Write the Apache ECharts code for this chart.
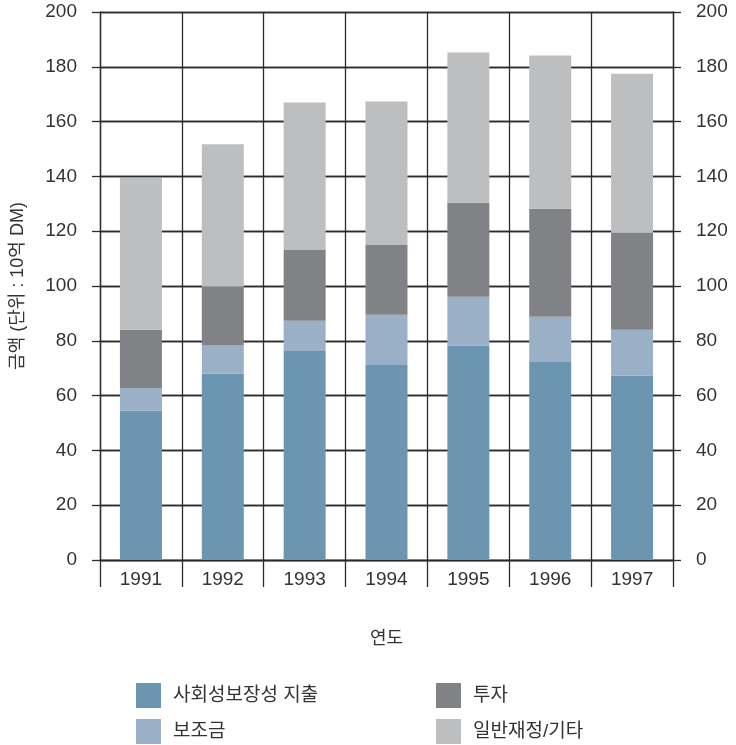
<!DOCTYPE html>
<html>
<head>
<meta charset="utf-8">
<script src="https://cdn.jsdelivr.net/npm/echarts@6/dist/echarts.min.js"></script>
<style>
    html, body { margin: 0; padding: 0; background: #fff; }
    #chart { width: 736px; height: 745px; }
</style>
</head>
<body>
<div id="chart"></div>
<script>
    // 연도별 금액 (단위 : 10억 DM)
    const years = ['1991', '1992', '1993', '1994', '1995', '1996', '1997'];
    const social = [54.5, 68, 76.3, 71.2, 78.2, 72.3, 67.2];
    const subsidy = [8.3, 10.3, 11, 18.3, 17.9, 16.5, 16.8];
    const invest = [21.2, 21.4, 26, 25.5, 34.3, 39.4, 35.4];
    const general = [55.4, 52, 53.7, 52.3, 54.8, 55.9, 58.1];

    const font = "'Liberation Sans', 'Noto Sans CJK KR', sans-serif";
    const lineColor = '#2b2b2b';

    const chart = echarts.init(document.getElementById('chart'));

    const yAxisBase = {
        type: 'value',
        min: 0,
        max: 200,
        interval: 20,
        axisLine: { show: true, lineStyle: { color: lineColor, width: 1.3 } },
        axisTick: { show: true, length: 8, lineStyle: { color: lineColor, width: 1.3 } },
        axisLabel: { color: '#333', fontSize: 19, margin: 23, fontFamily: font },
        splitLine: { show: true, lineStyle: { color: lineColor, width: 1.3 } }
    };

    // 범례 한 칸씩 따로 배치 (2열 x 2행)
    function legendItem (name, left, top) {
        return {
            data: [name],
            left: left,
            top: top,
            itemWidth: 25,
            itemHeight: 25,
            icon: 'rect',
            textStyle: { color: '#333', fontSize: 19, fontFamily: font, padding: [0, 0, 0, 7] }
        };
    }

    const option = {
        animation: false,
        textStyle: { fontFamily: font },
        grid: { left: 100, right: 63, top: 12, bottom: 185, containLabel: false, outerBoundsMode: 'none' },
        legend: [
            legendItem('사회성보장성 지출', 131, 678),
            legendItem('투자', 431, 678),
            legendItem('보조금', 131, 714),
            legendItem('일반재정/기타', 431, 714)
        ],
        xAxis: {
            type: 'category',
            data: years,
            name: '연도',
            nameLocation: 'middle',
            nameGap: 70,
            nameTextStyle: { color: '#333', fontSize: 18, fontFamily: font },
            axisLine: { show: true, lineStyle: { color: lineColor, width: 1.3 } },
            axisTick: { show: true, length: 27, interval: 0, lineStyle: { color: lineColor, width: 1.3 } },
            axisLabel: { color: '#333', fontSize: 19, margin: 10, fontFamily: font },
            splitLine: { show: true, interval: 0, lineStyle: { color: lineColor, width: 1.3 } }
        },
        yAxis: [
            Object.assign({}, yAxisBase, {
                name: '금액 (단위 : 10억 DM)',
                nameLocation: 'middle',
                nameGap: 73,
                nameTextStyle: { color: '#333', fontSize: 18, fontFamily: font }
            }),
            Object.assign({}, yAxisBase, { position: 'right' })
        ],
        series: [
            {
                name: '사회성보장성 지출',
                type: 'bar',
                stack: 'total',
                barWidth: 42,
                data: social,
                itemStyle: { color: '#6b95b0' }
            },
            {
                name: '보조금',
                type: 'bar',
                stack: 'total',
                data: subsidy,
                itemStyle: { color: '#9ab0c6' }
            },
            {
                name: '투자',
                type: 'bar',
                stack: 'total',
                data: invest,
                itemStyle: { color: '#818285' }
            },
            {
                name: '일반재정/기타',
                type: 'bar',
                stack: 'total',
                data: general,
                itemStyle: { color: '#bdbec0' }
            }
        ]
    };

    chart.setOption(option);

    window.addEventListener('resize', function () {
        chart.resize();
    });
</script>
</body>
</html>
